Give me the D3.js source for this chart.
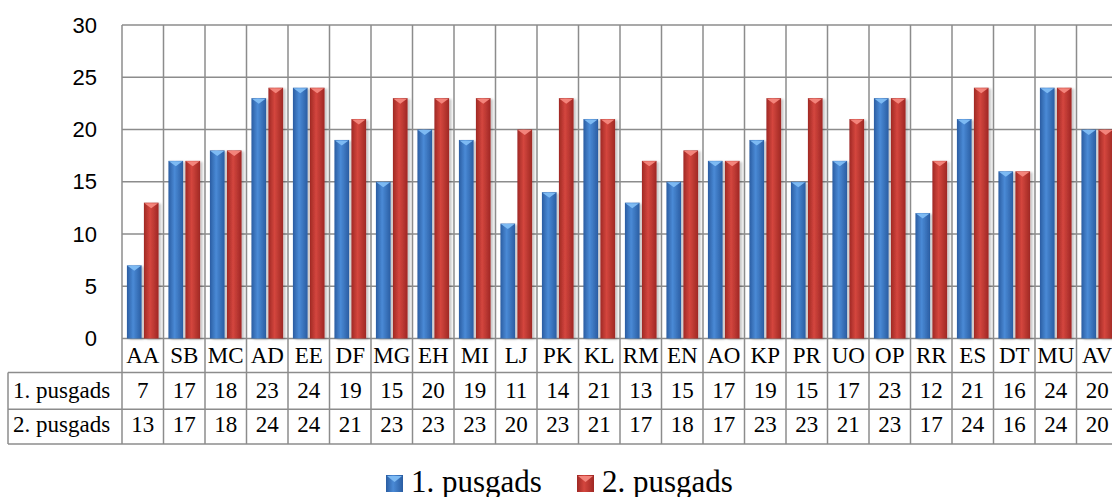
<!DOCTYPE html>
<html>
<head>
<meta charset="utf-8">
<script src="https://cdn.jsdelivr.net/npm/d3@7"></script>
<style>
  body { margin: 0; background: #ffffff; }
  svg { display: block; }
</style>
</head>
<body>
<div id="pusgadsChart"></div>
<script>
// data
var categories = ["AA", "SB", "MC", "AD", "EE", "DF", "MG", "EH", "MI", "LJ", "PK", "KL",
  "RM", "EN", "AO", "KP", "PR", "UO", "OP", "RR", "ES", "DT", "MU", "AV"];
var seriesNames = ["1. pusgads", "2. pusgads"];
var firstTerm = [7, 17, 18, 23, 24, 19, 15, 20, 19, 11, 14, 21, 13, 15, 17, 19, 15, 17, 23, 12, 21, 16, 24, 20];
var secondTerm = [13, 17, 18, 24, 24, 21, 23, 23, 23, 20, 23, 21, 17, 18, 17, 23, 23, 21, 23, 17, 24, 16, 24, 20];
var yTicks = [0, 5, 10, 15, 20, 25, 30];

var seriesValues = [firstTerm, secondTerm];

var chartWidth = 1112, chartHeight = 497;
var plotLeft = 122, plotTop = 25, plotBottom = 338.5, colWidth = 41.5;
var plotRight = plotLeft + colWidth * categories.length;
var rowTop = [338.5, 372.5, 409.3, 444];
var tableLeft = 8;
var gridColor = "#8c8c8c";

var rows = categories.map(function (c, i) {
  return { cat: c, values: seriesValues.map(function (s, j) { return { series: j, value: s[i] }; }) };
});

// scales
var x0 = d3.scaleBand().domain(categories).range([plotLeft, plotRight]);
var x1 = d3.scaleBand().domain([0, 1]).range([0, colWidth]).paddingInner(0.135).paddingOuter(0.29);
var y = d3.scaleLinear().domain([0, 30]).range([plotBottom, plotTop]);

var svg = d3.select("#pusgadsChart").append("svg")
  .attr("width", chartWidth)
  .attr("height", chartHeight);

var defs = svg.append("defs");
var barColors = [
  { id: "gradBlue", edge: "#2a5da2", mid: "#4a8ad6", cap: "#7dbaf3" },
  { id: "gradRed", edge: "#9f2824", mid: "#d4463e", cap: "#f3847b" }
];
barColors.forEach(function (c) {
  var g = defs.append("linearGradient").attr("id", c.id)
    .attr("x1", "0%").attr("x2", "100%").attr("y1", "0%").attr("y2", "0%");
  g.append("stop").attr("offset", "0%").attr("stop-color", c.edge);
  g.append("stop").attr("offset", "42%").attr("stop-color", c.mid);
  g.append("stop").attr("offset", "100%").attr("stop-color", c.edge);
});
defs.append("filter").attr("id", "barShadow")
  .attr("x", "-30%").attr("y", "-5%").attr("width", "160%").attr("height", "110%")
  .append("feDropShadow")
  .attr("dx", 2.5).attr("dy", 1).attr("stdDeviation", 1.2)
  .attr("flood-color", "#000").attr("flood-opacity", 0.22);

// horizontal grid lines
svg.append("g").selectAll("line")
  .data(yTicks)
  .enter().append("line")
  .attr("x1", plotLeft).attr("x2", plotRight)
  .attr("y1", function (d) { return y(d); })
  .attr("y2", function (d) { return y(d); })
  .attr("stroke", gridColor).attr("stroke-width", 1.5);

// vertical grid lines (plot + category row)
var bounds = categories.map(function (c) { return x0(c); }).concat([plotRight]);
svg.append("g").selectAll("line")
  .data(bounds)
  .enter().append("line")
  .attr("x1", function (d) { return d; }).attr("x2", function (d) { return d; })
  .attr("y1", plotTop).attr("y2", rowTop[1])
  .attr("stroke", gridColor).attr("stroke-width", 1.5);

// the bars
var groups = svg.append("g").selectAll("g")
  .data(rows)
  .enter().append("g")
  .attr("transform", function (d) { return "translate(" + x0(d.cat) + ",0)"; });

groups.selectAll("rect")
  .data(function (d) { return d.values; })
  .enter().append("rect")
  .attr("x", function (d) { return x1(d.series); })
  .attr("y", function (d) { return y(d.value); })
  .attr("width", x1.bandwidth())
  .attr("height", function (d) { return plotBottom - y(d.value); })
  .attr("fill", function (d) { return "url(#" + barColors[d.series].id + ")"; })
  .attr("filter", "url(#barShadow)");

// little bevel triangle on top of each bar
groups.selectAll("path")
  .data(function (d) { return d.values; })
  .enter().append("path")
  .attr("d", function (d) {
    var p = d3.path(), bx = x1(d.series), bw = x1.bandwidth(), by = y(d.value);
    p.moveTo(bx + 0.5, by + 0.5);
    p.lineTo(bx + bw - 0.5, by + 0.5);
    p.lineTo(bx + bw / 2, by + 5.5);
    p.closePath();
    return p.toString();
  })
  .attr("fill", function (d) { return barColors[d.series].cap; });

// Y axis labels
var yAxis = d3.axisLeft(y).tickValues(yTicks).tickSize(0).tickPadding(25);
var yAxisG = svg.append("g")
  .attr("transform", "translate(" + plotLeft + ",0)")
  .call(yAxis);
yAxisG.select(".domain").remove();
yAxisG.selectAll("text")
  .attr("font-family", "'Liberation Sans', Arial, sans-serif")
  .attr("font-size", 22)
  .attr("fill", "#000");

// data table
var table = svg.append("g");
table.selectAll("line.h")
  .data([rowTop[1], rowTop[2], rowTop[3]])
  .enter().append("line")
  .attr("x1", tableLeft).attr("x2", plotRight)
  .attr("y1", function (d) { return d; }).attr("y2", function (d) { return d; })
  .attr("stroke", gridColor).attr("stroke-width", 1.5);
table.selectAll("line.v")
  .data([tableLeft].concat(bounds))
  .enter().append("line")
  .attr("x1", function (d) { return d; }).attr("x2", function (d) { return d; })
  .attr("y1", rowTop[1]).attr("y2", rowTop[3])
  .attr("stroke", gridColor).attr("stroke-width", 1.5);

var serif = "'Liberation Serif', 'Times New Roman', serif";
table.selectAll("text.cat")
  .data(categories)
  .enter().append("text")
  .attr("x", function (d) { return x0(d) + colWidth / 2; })
  .attr("y", 363)
  .attr("text-anchor", "middle")
  .attr("font-family", serif).attr("font-size", 23)
  .text(function (d) { return d; });

var rowBase = [398, 432];
seriesNames.forEach(function (name, j) {
  table.append("text")
    .attr("x", 13).attr("y", rowBase[j])
    .attr("font-family", serif).attr("font-size", 23)
    .text(name);
  table.selectAll("text.v" + j)
    .data(seriesValues[j])
    .enter().append("text")
    .attr("x", function (d, i) { return x0(categories[i]) + colWidth / 2; })
    .attr("y", rowBase[j])
    .attr("text-anchor", "middle")
    .attr("font-family", serif).attr("font-size", 23)
    .text(function (d) { return d; });
});

// legend
var legendX = [386, 577];
var legend = svg.append("g").selectAll("g")
  .data(seriesNames)
  .enter().append("g")
  .attr("transform", function (d, i) { return "translate(" + legendX[i] + ",475)"; });
legend.append("rect")
  .attr("width", 17).attr("height", 17)
  .attr("fill", function (d, i) { return "url(#" + barColors[i].id + ")"; });
legend.append("path")
  .attr("d", "M1,1L16,1L8.5,7Z")
  .attr("fill", function (d, i) { return barColors[i].cap; });
legend.append("text")
  .attr("x", 25).attr("y", 16.5)
  .attr("font-family", serif).attr("font-size", 31)
  .text(function (d) { return d; });
</script>
</body>
</html>
